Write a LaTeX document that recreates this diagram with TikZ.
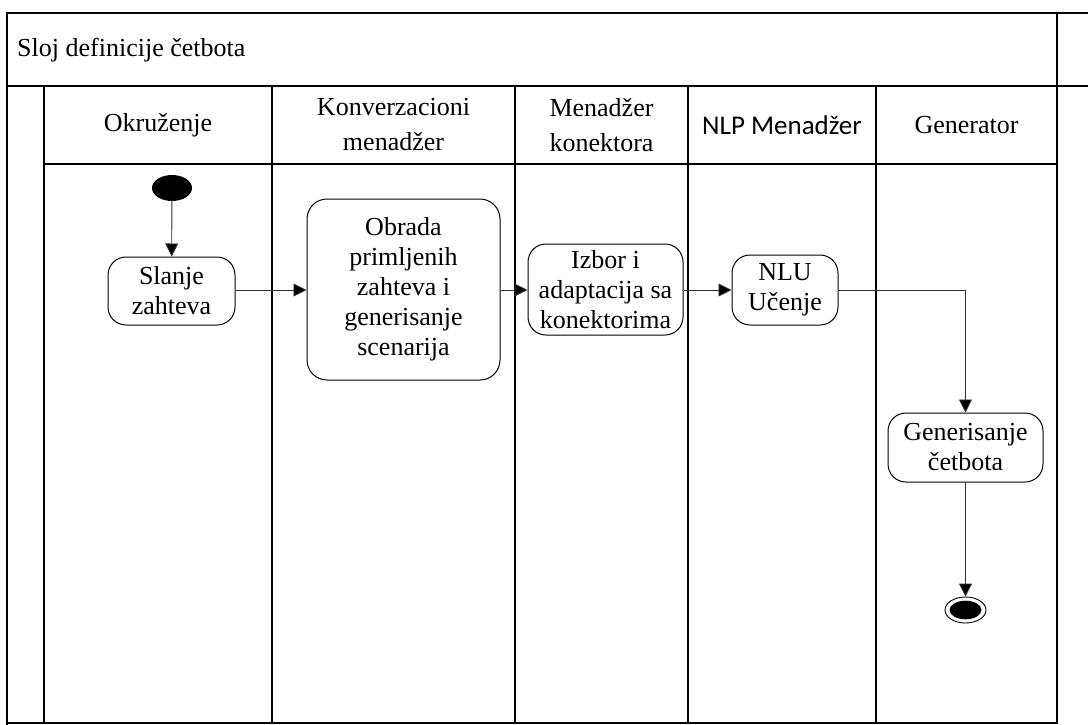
\documentclass[tikz,border=0pt]{standalone}
\usepackage{fontspec}
\setmainfont{Liberation Serif}
\newfontfamily\calib{Carlito}
\usetikzlibrary{arrows.meta,shapes.geometric}
\begin{document}
\begin{tikzpicture}[x=1pt,y=-1pt,
  lane/.style={line width=1.5pt, line cap=rect},
  act/.style={draw, rounded corners=18pt, line width=1pt, align=center,
    font=\fontsize{26}{30}\selectfont, inner sep=0pt},
  flow/.style={line width=0.9pt, draw=black!80, -{Triangle[length=13pt,width=13pt,fill=black]}},
  hdr/.style={align=center, font=\fontsize{26}{35}\selectfont, inner sep=0pt}]
\useasboundingbox (0,0) rectangle (1088,724);

% pool frame and title row
\draw[lane] (7,724) -- (7,13) -- (1088,13);
\draw[lane] (7,86) -- (1088,86);
\draw[lane] (1057,13) -- (1057,723);
\draw[lane] (7,723) -- (1057,723);
\node[anchor=west, font=\fontsize{26}{30}\selectfont, inner sep=0pt] (title) at (17,50) {Sloj definicije četbota};

% lanes
\draw[lane] (44,86) -- (44,723);
\draw[lane] (44,164) -- (1057,164);
\foreach \x in {272,515,688,876} \draw[lane] (\x,86) -- (\x,723);

% lane headers
\node[hdr] (h1) at (158,125) {Okruženje};
\node[hdr] (h2) at (393.5,125) {Konverzacioni\\menadžer};
\node[hdr] (h3) at (601.5,125) {Menadžer\\konektora};
\node[hdr, font=\calib\fontsize{27}{35}\selectfont] (h4) at (782,125) {NLP Menadžer};
\node[hdr] (h5) at (966.5,125) {Generator};

% activities
\node[ellipse, fill, minimum width=40pt, minimum height=26pt, inner sep=0pt] (start) at (172,188) {};
\node[act, minimum width=127pt, minimum height=68pt] (send) at (171.5,291) {Slanje\\zahteva};
\node[act, rounded corners=20pt, minimum width=193pt, minimum height=181pt] (proc) at (403.5,289.5) {Obrada\\primljenih\\zahteva i\\generisanje\\scenarija};
\node[act, minimum width=155pt, minimum height=91pt] (conn) at (605.5,289.5) {Izbor i\\adaptacija sa\\konektorima};
\node[act, minimum width=106pt, minimum height=70pt] (nlu) at (785,290) {NLU\\Učenje};
\node[act, minimum width=155pt, minimum height=69pt] (gen) at (965.5,447.5) {Generisanje\\četbota};
\node[ellipse, draw, fill=white, line width=0.9pt, minimum width=41pt, minimum height=26pt, inner sep=0pt] (end) at (965.5,610) {};
\fill (end.center) ellipse [x radius=16pt, y radius=9.3pt];

% control flow
\draw[flow] (start) -- (send);
\draw[flow] (send.east |- 0,290) -- (proc.west |- 0,290);
\draw[flow] (proc.east |- 0,290) -- (conn.west |- 0,290);
\draw[flow] (conn.east |- 0,290) -- (nlu.west |- 0,290);
\draw[flow] (nlu.east) -| (gen.north);
\draw[flow] (gen) -- (end);
\end{tikzpicture}
\end{document}
